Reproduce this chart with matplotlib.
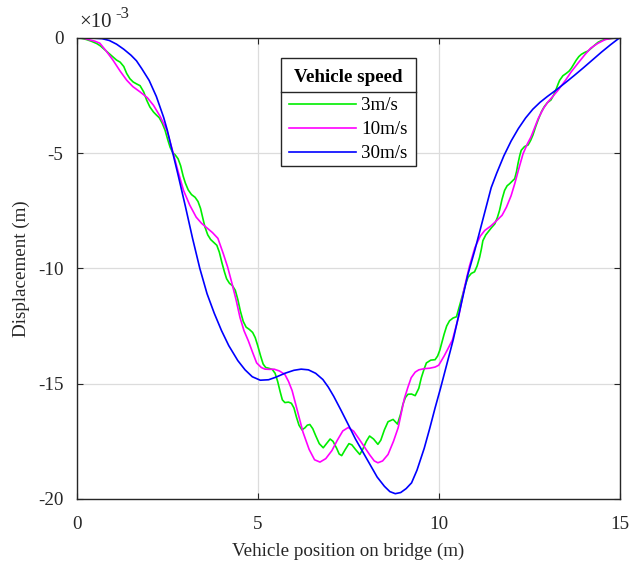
import numpy as np
import matplotlib
matplotlib.use("Agg")
import matplotlib.pyplot as plt
from matplotlib.lines import Line2D
from matplotlib.patches import Rectangle
from matplotlib.transforms import IdentityTransform

plt.rcParams['font.family'] = ['Liberation Serif', 'DejaVu Serif']
plt.rcParams['axes.unicode_minus'] = False

# vehicle position on bridge (m) and midspan displacement (x 1e-3 m)
x_3 = [0, 0.15, 0.27, 0.4, 0.55, 0.65, 0.73, 0.87, 1.01, 1.1, 1.2, 1.3, 1.38, 1.47,
       1.56, 1.65, 1.75, 1.85, 1.93, 2.02, 2.12, 2.2, 2.28, 2.36, 2.44, 2.52, 2.58, 2.65,
       2.72, 2.8, 2.87, 2.94, 3.0, 3.08, 3.17, 3.27, 3.35, 3.42, 3.48, 3.54, 3.62, 3.7,
       3.78, 3.87, 3.94, 4.01, 4.08, 4.14, 4.22, 4.3, 4.38, 4.45, 4.52, 4.6, 4.68, 4.77,
       4.86, 4.93, 5.0, 5.08, 5.15, 5.22, 5.3, 5.4, 5.48, 5.55, 5.62, 5.68, 5.75, 5.85,
       5.93, 6.0, 6.07, 6.14, 6.22, 6.3, 6.37, 6.44, 6.52, 6.6, 6.7, 6.81, 6.9, 7.0, 7.08,
       7.18, 7.25, 7.32, 7.42, 7.52, 7.6, 7.7, 7.82, 7.9, 8.0, 8.09, 8.2, 8.32, 8.4, 8.5,
       8.6, 8.74, 8.86, 8.95, 9.01, 9.08, 9.15, 9.25, 9.35, 9.45, 9.52, 9.6, 9.66, 9.78,
       9.9, 9.97, 10.03, 10.1, 10.15, 10.22, 10.3, 10.4, 10.49, 10.58, 10.67, 10.74, 10.81,
       10.9, 10.99, 11.06, 11.13, 11.18, 11.22, 11.3, 11.36, 11.45, 11.55, 11.62, 11.68,
       11.75, 11.82, 11.89, 11.96, 12.03, 12.1, 12.15, 12.19, 12.24, 12.28, 12.37, 12.47,
       12.54, 12.6, 12.68, 12.75, 12.84, 12.92, 13.0, 13.1, 13.17, 13.24, 13.3, 13.34,
       13.43, 13.52, 13.6, 13.66, 13.73, 13.8, 13.87, 13.94, 14.03, 14.12, 14.22, 14.31,
       14.4, 14.49, 14.6, 14.77, 15]
d_3 = [0, -0.03, -0.08, -0.15, -0.25, -0.35, -0.46, -0.65, -0.85, -0.97, -1.06, -1.25,
       -1.55, -1.78, -1.92, -2.0, -2.08, -2.35, -2.7, -3.0, -3.22, -3.35, -3.47, -3.7,
       -4.01, -4.45, -4.75, -4.98, -5.08, -5.25, -5.55, -6.0, -6.3, -6.6, -6.8, -6.92,
       -7.1, -7.4, -7.8, -8.2, -8.55, -8.75, -8.87, -9.0, -9.3, -9.75, -10.15, -10.45,
       -10.65, -10.75, -10.95, -11.35, -11.85, -12.3, -12.55, -12.65, -12.78, -13.0,
       -13.35, -13.8, -14.15, -14.3, -14.33, -14.38, -14.55, -14.9, -15.35, -15.7, -15.82,
       -15.8, -15.85, -16.05, -16.45, -16.8, -17.0, -16.92, -16.8, -16.77, -16.95, -17.25,
       -17.6, -17.78, -17.6, -17.4, -17.5, -17.8, -18.05, -18.12, -17.85, -17.6, -17.65,
       -17.85, -18.07, -17.85, -17.5, -17.27, -17.4, -17.63, -17.45, -17.0, -16.65, -16.55,
       -16.75, -16.3, -15.9, -15.6, -15.46, -15.45, -15.52, -15.2, -14.74, -14.35, -14.1,
       -13.98, -13.96, -13.8, -13.55, -13.15, -12.85, -12.5, -12.27, -12.15, -12.1, -11.6,
       -11.1, -10.7, -10.39, -10.22, -10.15, -9.9, -9.52, -9.15, -8.8, -8.55, -8.43, -8.25,
       -8.07, -7.8, -7.49, -7.0, -6.62, -6.42, -6.33, -6.22, -6.11, -5.8, -5.46, -5.1,
       -4.88, -4.72, -4.65, -4.45, -4.23, -3.85, -3.55, -3.2, -2.98, -2.82, -2.7, -2.5,
       -2.25, -2.0, -1.85, -1.65, -1.55, -1.45, -1.33, -1.15, -0.97, -0.82, -0.72, -0.64,
       -0.58, -0.45, -0.32, -0.2, -0.13, -0.07, -0.03, 0]

x_10 = [0, 0.2, 0.37, 0.5, 0.64, 0.8, 1.0, 1.2, 1.38, 1.55, 1.75, 1.95, 2.12, 2.3, 2.49,
        2.67, 2.8, 2.95, 3.12, 3.3, 3.45, 3.6, 3.75, 3.9, 4.05, 4.17, 4.28, 4.4, 4.51,
        4.62, 4.74, 4.86, 4.97, 5.1, 5.2, 5.33, 5.45, 5.6, 5.75, 5.85, 5.95, 6.1, 6.25,
        6.42, 6.57, 6.72, 6.88, 7.05, 7.2, 7.35, 7.5, 7.65, 7.8, 7.95, 8.1, 8.22, 8.32,
        8.45, 8.6, 8.75, 8.88, 9.05, 9.15, 9.24, 9.35, 9.45, 9.6, 9.75, 9.9, 10.0, 10.15,
        10.25, 10.38, 10.55, 10.7, 10.85, 11.0, 11.15, 11.27, 11.45, 11.6, 11.75, 11.87,
        12.0, 12.1, 12.2, 12.33, 12.45, 12.55, 12.75, 12.9, 13.02, 13.15, 13.3, 13.5,
        13.66, 13.85, 14.03, 14.2, 14.4, 14.6, 14.77, 15]
d_10 = [0, -0.03, -0.1, -0.15, -0.24, -0.55, -0.97, -1.45, -1.84, -2.12, -2.35, -2.6,
        -2.93, -3.4, -4.01, -5.03, -5.8, -6.62, -7.25, -7.78, -8.05, -8.25, -8.45, -8.7,
        -9.37, -9.95, -10.6, -11.35, -12.13, -12.7, -13.14, -13.65, -14.1, -14.3, -14.37,
        -14.38, -14.37, -14.45, -14.6, -14.9, -15.3, -16.2, -17.1, -17.85, -18.3, -18.4,
        -18.25, -17.9, -17.45, -17.05, -16.9, -17.06, -17.4, -17.75, -18.1, -18.35, -18.43,
        -18.35, -18.07, -17.5, -16.91, -15.65, -15.15, -14.74, -14.5, -14.4, -14.35, -14.33,
        -14.28, -14.2, -13.8, -13.5, -13.1, -12.1, -10.9, -9.9, -9.1, -8.6, -8.36, -8.15,
        -7.93, -7.7, -7.35, -6.85, -6.33, -5.75, -5.03, -4.6, -4.3, -3.5, -3.05, -2.78,
        -2.55, -2.27, -1.85, -1.48, -1.1, -0.75, -0.45, -0.24, -0.08, -0.03, 0]

x_30 = [0, 0.4, 0.7, 0.9, 1.1, 1.3, 1.5, 1.65, 1.8, 2.0, 2.2, 2.4, 2.5, 2.6, 2.7, 2.8,
        3.0, 3.2, 3.4, 3.6, 3.8, 4.0, 4.2, 4.45, 4.65, 4.85, 5.07, 5.3, 5.5, 5.75, 6.0,
        6.2, 6.4, 6.6, 6.8, 6.95, 7.1, 7.3, 7.5, 7.7, 7.9, 8.1, 8.3, 8.5, 8.65, 8.8, 8.95,
        9.1, 9.25, 9.4, 9.6, 9.75, 9.9, 10.05, 10.2, 10.4, 10.6, 10.8, 11.0, 11.2, 11.45,
        11.6, 11.8, 12.0, 12.2, 12.4, 12.6, 12.8, 13.0, 13.25, 13.5, 13.75, 14.0, 14.25,
        14.5, 14.75, 15]
d_30 = [0, -0.01, -0.04, -0.12, -0.28, -0.5, -0.76, -1.0, -1.35, -1.85, -2.55, -3.45,
        -4.0, -4.65, -5.3, -5.95, -7.3, -8.7, -10.0, -11.1, -11.95, -12.7, -13.35, -14.0,
        -14.4, -14.7, -14.85, -14.83, -14.72, -14.55, -14.42, -14.37, -14.4, -14.55, -14.82,
        -15.15, -15.55, -16.15, -16.77, -17.4, -17.95, -18.5, -19.05, -19.45, -19.68, -19.77,
        -19.72, -19.55, -19.3, -18.75, -17.8, -16.95, -16.05, -15.2, -14.3, -13.1, -11.7,
        -10.3, -9.2, -8.0, -6.5, -5.88, -5.12, -4.48, -3.94, -3.48, -3.1, -2.8, -2.55,
        -2.26, -1.95, -1.63, -1.3, -0.96, -0.62, -0.3, 0]

speeds = ['3m/s', '10m/s', '30m/s']
colors = ['#00ee00', '#ff00ff', '#0000ff']

fs = 13.7
ink = '#262626'
fig = plt.figure(figsize=(6.31, 5.68), dpi=100)
ax = fig.add_axes([0.1216, 0.1215, 0.8605, 0.8121])

for xs, ds, lab, c in zip([x_3, x_10, x_30], [d_3, d_10, d_30], speeds, colors):
    ax.plot(xs, ds, color=c, lw=1.2, label=lab)

ax.set_xlim(0, 15)
ax.set_ylim(-20, 0)
ax.set_xticks([0, 5, 10, 15])
ax.set_yticks([-20, -15, -10, -5, 0])
ax.grid(True, color='#dcdcdc', lw=0.9)
ax.set_axisbelow(True)
ax.tick_params(direction='in', length=4, width=0.8, top=True, right=True,
               labelsize=fs, colors=ink)
ax.tick_params(axis='x', pad=12)
ax.tick_params(axis='y', pad=9.5)
for s in ax.spines.values():
    s.set_color(ink)
    s.set_linewidth(1.0)

ax.set_xlabel('Vehicle position on bridge (m)', fontsize=fs, color=ink, labelpad=7)
ax.set_ylabel('Displacement (m)', fontsize=fs, color=ink, labelpad=6)

# exponent of the y axis
ax.annotate('\u00d710', xy=(0, 1), xycoords='axes fraction', xytext=(3, 15),
            textcoords='offset pixels', fontsize=15, color=ink, ha='left', va='center')
ax.annotate('-3', xy=(0, 1), xycoords='axes fraction', xytext=(39, 24),
            textcoords='offset pixels', fontsize=12, color=ink, ha='left', va='center')

leg = ax.legend(title='Vehicle speed', loc='upper left', bbox_to_anchor=(0.376, 0.9497),
                fontsize=fs, title_fontproperties={'weight': 'bold', 'size': fs},
                frameon=False, handlelength=3.5, handletextpad=0.25, borderpad=0.45,
                labelspacing=0.35, borderaxespad=0)
leg._legend_box.sep = 7.7
leg.set_zorder(6)

# white box with a rule between the legend title and its entries
fig.canvas.draw()
lb = leg.get_window_extent()
tb = leg.get_title().get_window_extent()
last = leg.get_texts()[-1].get_window_extent()
tc = 0.5 * (tb.y0 + tb.y1)
lc = 0.5 * (last.y0 + last.y1)
top, bottom = tc + 20, lc - 12
ax.add_patch(Rectangle((lb.x0, bottom), lb.x1 - lb.x0, top - bottom,
                       transform=IdentityTransform(), facecolor='white',
                       edgecolor=ink, lw=1.0, zorder=5))
ax.add_line(Line2D([lb.x0, lb.x1], [tc - 14, tc - 14], transform=IdentityTransform(),
                   color=ink, lw=1.0, zorder=5.5))

fig.savefig('out.png', dpi=100)
